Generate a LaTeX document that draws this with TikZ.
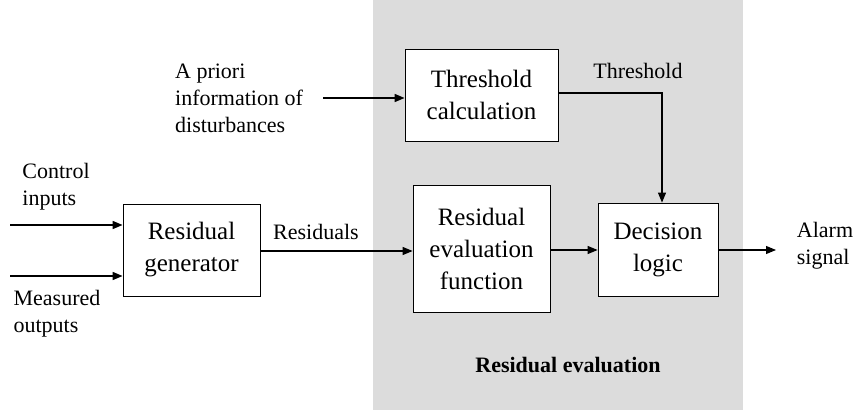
\documentclass[tikz,border=0pt]{standalone}
\usepackage{fontspec}
\setmainfont{Liberation Serif}
\usetikzlibrary{arrows.meta}
\definecolor{bggray}{HTML}{DCDCDC}
\tikzset{
  block/.style={draw=black, line width=0.8pt, fill=white, inner sep=0pt,
    align=center, font=\fontsize{25}{32}\selectfont},
  lbl/.style={inner sep=0pt, font=\fontsize{22}{27}\selectfont},
  flow/.style={line width=1.5pt, -{Triangle[length=10pt,width=8pt]}},
  thinflow/.style={line width=1.1pt, -{Triangle[length=10pt,width=8pt]}}
}
\begin{document}
\begin{tikzpicture}[x=1pt, y=-1pt]
  \useasboundingbox (0,0) rectangle (854,414);
  % shaded area of the evaluation stage
  \fill[bggray] (373,0) rectangle (743,410);

  % blocks
  \node[block, minimum width=153pt, minimum height=92pt] (thr) at (481.5,95) {Threshold\\calculation};
  \node[block, minimum width=137pt, minimum height=92pt] (gen) at (191.5,250) {Residual\\generator};
  \node[block, minimum width=137pt, minimum height=127pt] (evf) at (481.5,248.5) {Residual\\evaluation\\function};
  \node[block, minimum width=120pt, minimum height=93pt] (dec) at (658,249.5) {Decision\\logic};

  % labels
  \node[lbl, align=left] (apr) at (239,98) {A priori\\information of\\disturbances};
  \node[lbl, align=left] (cin) at (56,187) {Control\\inputs};
  \node[lbl, align=left] (mout) at (57,314) {Measured\\outputs};
  \node[lbl, align=left] (alarm) at (825,246) {Alarm\\signal};
  \node[lbl] (res) at (316,232) {Residuals};
  \node[lbl] (thl) at (638,71) {Threshold};
  \node[lbl, font=\fontsize{22}{27}\selectfont\bfseries] (rev) at (568,365) {Residual evaluation};

  % free ends of the connectors
  \coordinate (cinS) at (10,225);
  \coordinate (moutS) at (10,276);
  \coordinate (aprS) at (323,98);
  \coordinate (alarmE) at (776,250);
  \coordinate (bend) at (662,93);

  % connectors
  \draw[flow] (cinS) -- (cinS -| gen.west);
  \draw[flow] (moutS) -- (moutS -| gen.west);
  \draw[flow] (aprS) -- (aprS -| thr.west);
  \draw[thinflow] (gen.east |- 0,251) -- (evf.west |- 0,251);
  \draw[thinflow] (evf.east |- 0,250) -- (dec.west |- 0,250);
  \draw[thinflow] (dec.east |- 0,250) -- (alarmE);
  \draw[thinflow] (thr.east |- bend) -- (bend) -- (bend |- dec.north);
\end{tikzpicture}
\end{document}
